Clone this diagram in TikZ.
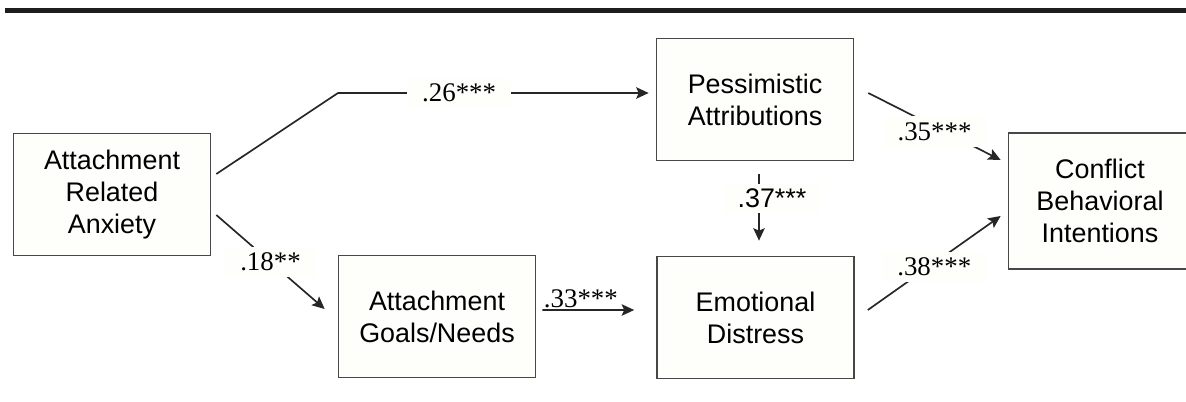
\documentclass[tikz,border=0pt]{standalone}
\usepackage{fontspec}
\setmainfont{Liberation Serif}
\setsansfont{Liberation Sans}
\usetikzlibrary{arrows.meta}
\definecolor{pathline}{HTML}{262626}
\definecolor{pathfill}{HTML}{FEFEFA}
\definecolor{pathrule}{HTML}{1E1E1E}
\newcommand{\boxfont}{\sffamily\fontsize{15.3}{18.1}\selectfont}

\begin{document}
\begin{tikzpicture}[
  font=\fontsize{15.3}{18.1}\selectfont,
  box/.style={draw=pathline!85, line width=0.95pt, fill=pathfill, align=center,
              minimum width=3.94cm, minimum height=2.44cm, inner sep=2pt, font=\boxfont},
  coef/.style={fill=pathfill, inner xsep=0.3cm, inner ysep=0.12cm},
  arr/.style={-{Stealth[length=2.5mm, width=2.3mm, inset=0.5mm]}, line width=0.95pt, draw=pathline}
]
\useasboundingbox (0,0) rectangle (23.72,-8.02);
\draw[line width=0.1cm, draw=pathrule] (0.1,-0.2) -- (23.8,-0.2);
\node[box] (anxiety) at (2.24,-3.89) {Attachment\\Related\\Anxiety};
\node[box] (goals) at (8.74,-6.33) {Attachment\\Goals/Needs};
\node[box] (pessimism) at (15.10,-1.99) {Pessimistic\\Attributions};
\node[box] (distress) at (15.11,-6.35) {Emotional\\Distress};
\node[box, minimum width=3.66cm, minimum height=2.72cm] (conflict) at (22.0,-4.02)
  {Conflict\\Behavioral\\Intentions};
\coordinate (bend) at (6.76,-1.86);
\draw[arr] ([xshift=0.1cm, yshift=0.41cm]anxiety.east) -- (bend)
  -- node[coef, pos=0.39] {.26***} ([xshift=-0.14cm, yshift=0.13cm]pessimism.west);
\draw[arr] ([xshift=0.1cm, yshift=-0.41cm]anxiety.east)
  -- node[coef] {.18**} ([xshift=-0.26cm, yshift=0.15cm]goals.west);
\draw[arr] ([xshift=0.12cm, yshift=0.13cm]goals.east)
  -- node[above, inner sep=1pt, pos=0.42] {.33***} ([xshift=-0.44cm, yshift=0.15cm]distress.west);
\draw[arr] ([xshift=0.08cm, yshift=-0.26cm]pessimism.south)
  -- node[coef, pos=0.36, xshift=0.26cm, inner ysep=0.1cm, font=\boxfont] {.37***}
  ([xshift=0.07cm, yshift=0.3cm]distress.north);
\draw[arr] ([xshift=0.28cm, yshift=0.13cm]pessimism.east)
  -- node[coef, yshift=-0.1cm] {.35***} ([xshift=-0.14cm, yshift=0.82cm]conflict.west);
\draw[arr] ([xshift=0.26cm, yshift=0.15cm]distress.east)
  -- node[coef, yshift=-0.08cm] {.38***} ([xshift=-0.14cm, yshift=-0.30cm]conflict.west);
\end{tikzpicture}
\end{document}
